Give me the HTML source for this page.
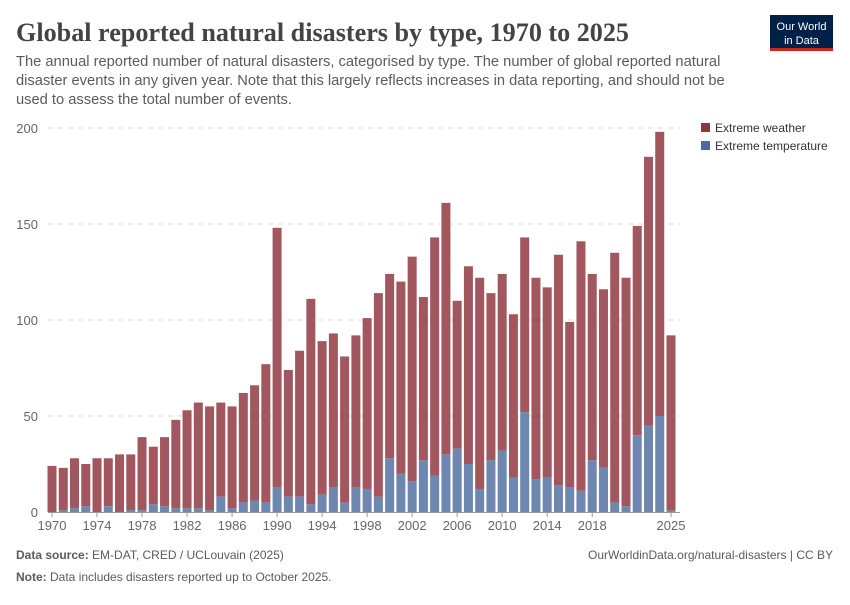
<!DOCTYPE html>
<html><head><meta charset="utf-8"><style>
body{margin:0;background:#fff;width:850px;height:600px;overflow:hidden;font-family:"Liberation Sans",sans-serif}
</style></head><body>
<svg width="850" height="600" xmlns="http://www.w3.org/2000/svg">
<text x="16" y="41" font-family="Liberation Serif,serif" font-size="26" font-weight="bold" fill="#444" textLength="613" lengthAdjust="spacingAndGlyphs">Global reported natural disasters by type, 1970 to 2025</text>
<g font-size="14.7" fill="#5b5b5b">
<text x="16" y="66">The annual reported number of natural disasters, categorised by type. The number of global reported natural</text>
<text x="16" y="85">disaster events in any given year. Note that this largely reflects increases in data reporting, and should not be</text>
<text x="16" y="104">used to assess the total number of events.</text></g>
<g><rect x="770" y="15" width="63" height="35" fill="#002147"/><rect x="770" y="48" width="63" height="3" fill="#ce261e"/>
<text x="801.5" y="30" font-size="11" fill="#fff" text-anchor="middle">Our World</text><text x="801.5" y="44" font-size="11" fill="#fff" text-anchor="middle">in Data</text></g>
<g id="grid"></g><g id="bars"></g><g id="axes"></g>
<g font-size="12" fill="#333">
<rect x="701" y="123" width="9" height="9" fill="#8b3843"/><text x="715" y="132">Extreme weather</text>
<rect x="701" y="141" width="9" height="9" fill="#4c6a9c"/><text x="715" y="150">Extreme temperature</text></g>
<text x="16" y="559" font-size="12" fill="#5b5b5b"><tspan font-weight="bold">Data source:</tspan> EM-DAT, CRED / UCLouvain (2025)</text>
<text x="833" y="559" font-size="12" fill="#5b5b5b" text-anchor="end">OurWorldinData.org/natural-disasters | CC BY</text>
<text x="16" y="581" font-size="12" fill="#5b5b5b"><tspan font-weight="bold">Note:</tspan> Data includes disasters reported up to October 2025.</text>
</svg>
<script>
const years=[];for(let y=1970;y<=2025;y++)years.push(y);
const totals=[24,23,28,25,28,28,30,30,39,34,39,48,53,57,55,57,55,62,66,77,148,74,84,111,89,93,81,92,101,114,124,120,133,112,143,161,110,128,122,114,124,103,143,122,117,134,99,141,124,116,135,122,149,185,198,92];
const temperature=[0,1,2,3,0,3,0,1,1,4,3,2,2,2,1,8,2,5,6,5,13,8,8,4,9,13,5,13,12,8,28,20,16,27,19,30,33,25,12,27,32,18,52,17,18,14,13,11,27,23,5,3,40,45,50,1];
const weather=totals.map((t,i)=>t-temperature[i]);
const yTicks=[0,50,100,150,200];
const xTicks=[1970,1974,1978,1982,1986,1990,1994,1998,2002,2006,2010,2014,2018,2025];
const NS="http://www.w3.org/2000/svg";
const x0=52,step=(671-52)/55,bw=9;
const X=y=>x0+(y-1970)*step, Y=v=>512-v*1.92;
function mk(t,a,p){const e=document.createElementNS(NS,t);for(const k in a)e.setAttribute(k,a[k]);p.appendChild(e);return e;}
const g=document.getElementById('grid'),b=document.getElementById('bars'),ax=document.getElementById('axes');
yTicks.forEach(v=>{
 if(v>0){const l=mk('line',{x1:48,x2:680,y1:Y(v),y2:Y(v),stroke:'#ddd','stroke-dasharray':'5,5'},g);
 
 }
 const t=mk('text',{x:38,y:Y(v)+5,'text-anchor':'end','font-size':13,fill:'#666'},ax);t.textContent=v;
 
 
});
years.forEach((yr,i)=>{
 const r1=mk('rect',{x:X(yr)-bw/2,y:Y(temperature[i]),width:bw,height:temperature[i]*1.92,fill:'#6d87b0'},b);
 
 
 const r2=mk('rect',{x:X(yr)-bw/2,y:Y(totals[i]),width:bw,height:weather[i]*1.92,fill:'#a2575f'},b);
 
 
});
const base=mk('line',{x1:48,x2:680,y1:512.5,y2:512.5,stroke:'#999'},ax);


xTicks.forEach(yr=>{
 mk('line',{x1:X(yr),x2:X(yr),y1:512,y2:517,stroke:'#999'},ax);
 const t=mk('text',{x:X(yr),y:530,'text-anchor':'middle','font-size':13,fill:'#666'},ax);t.textContent=yr;
 
 
});
</script>
</body></html>
